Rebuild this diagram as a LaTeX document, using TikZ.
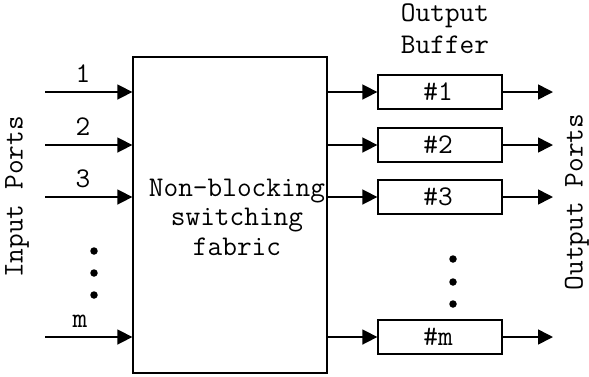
\documentclass[tikz,border=0pt]{standalone}
\usepackage{fontspec}
\usetikzlibrary{arrows.meta}
\begin{document}
\begin{tikzpicture}[x=1pt,y=-1pt,
  txt/.style={font=\ttfamily\fontsize{28.5}{29.5}\selectfont, inner sep=0pt},
  box/.style={draw, line width=1.3pt, inner sep=0pt},
  link/.style={line width=1.6pt, -{Triangle[length=15pt,width=15pt]}},
  dot/.style={circle, fill, inner sep=0pt, minimum size=7.5pt}]
\useasboundingbox (0,0) rectangle (589,376);

% switching fabric
\node[box, minimum width=194pt, minimum height=316pt] (fab) at (230,215) {};
\node[txt, align=center] (fabtxt) at (237,217) {Non-blocking\\switching\\fabric};

% output buffers
\foreach \n/\y/\t in {1/92/\#1, 2/145/\#2, 3/197/\#3, m/337/\#m} {
  \node[box, minimum width=124pt, minimum height=34pt] (buf\n) at (440,\y) {};
  \node[txt] (buft\n) at (438,\y) {\t};
  \coordinate (out\n) at (553,\y);
  \draw[link] (fab.east |- buf\n.west) -- (buf\n.west);
  \draw[link] (buf\n.east) -- (out\n);
}

% input ports
\foreach \n/\y/\l/\lx in {1/92/1/83, 2/145/2/83, 3/197/3/83, m/337/m/80} {
  \coordinate (in\n) at (45,\y);
  \draw[link] (in\n) -- (in\n -| fab.west);
  \node[txt, anchor=base] (lab\n) at (\lx,\y-10) {\l};
}

% ellipsis dots
\node[dot] (dl1) at (94,251) {};
\node[dot] (dl2) at (94,273) {};
\node[dot] (dl3) at (94,295) {};
\node[dot] (dr1) at (453,259) {};
\node[dot] (dr2) at (453,282) {};
\node[dot] (dr3) at (453,304) {};

% titles
\node[txt, rotate=90] (inports) at (17,197) {Input Ports};
\node[txt, rotate=90] (outports) at (577,202) {Output Ports};
\node[txt, anchor=base] (obuf1) at (445,21) {Output};
\node[txt, anchor=base] (obuf2) at (445,53) {Buffer};
\end{tikzpicture}
\end{document}
